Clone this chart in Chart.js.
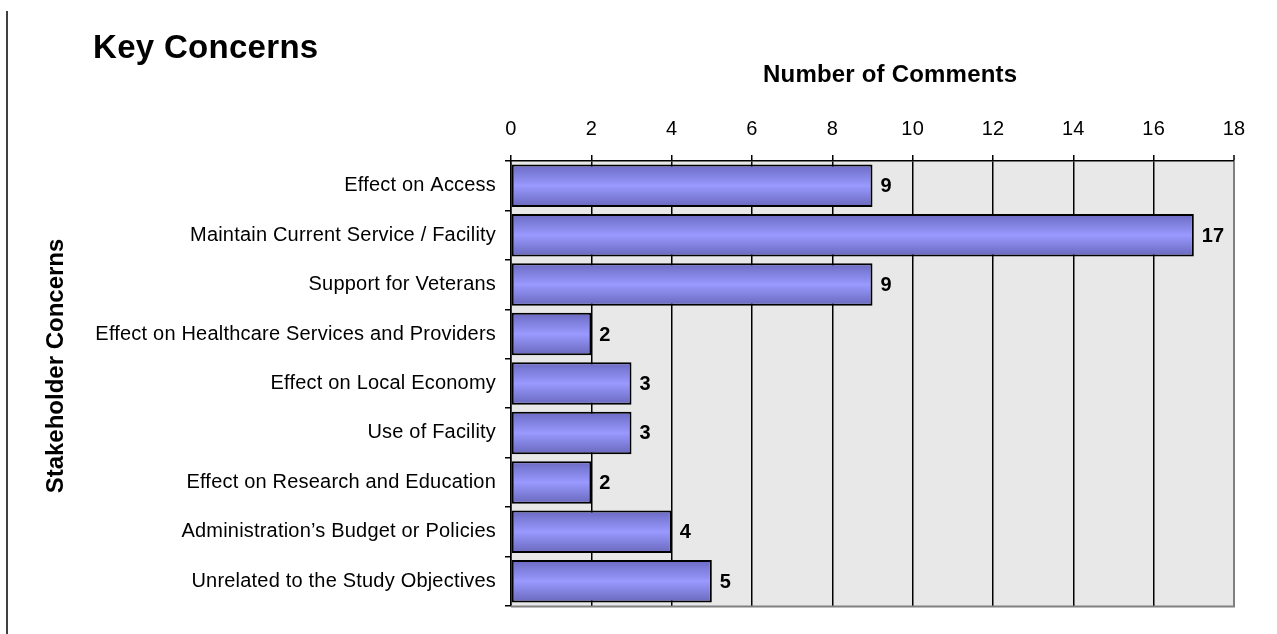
<!DOCTYPE html>
<html>
<head>
<meta charset="utf-8">
<title>Key Concerns</title>
<script src="https://cdn.jsdelivr.net/npm/chart.js@4"></script>
<style>
  body { margin: 0; background: #fff; }
  #wrap { width: 1277px; height: 634px; }
</style>
</head>
<body>
<div id="wrap"><canvas id="barChart" width="1277" height="634"></canvas></div>
<script>
// data
var categories = [
    'Effect on Access',
    'Maintain Current Service / Facility',
    'Support for Veterans',
    'Effect on Healthcare Services and Providers',
    'Effect on Local Economy',
    'Use of Facility',
    'Effect on Research and Education',
    'Administration\u2019s Budget or Policies',
    'Unrelated to the Study Objectives'
];
var comments = [9, 17, 9, 2, 3, 3, 2, 4, 5];
var axisMin = 0;
var axisMax = 18;
var axisStep = 2;

var chartTitle = 'Key Concerns';
var xTitle = 'Number of Comments';
var yTitle = 'Stakeholder Concerns';

var FONT = "'Liberation Sans', Arial, sans-serif";
Chart.defaults.font.family = FONT;
Chart.defaults.color = '#000';

var BAR_PCT = 0.86;

// vertical shading on every bar, darker at the edges like the original
function barFill(context) {
    var chart = context.chart;
    var yScale = chart.scales.y;
    if (!chart.chartArea || !yScale) {
        return '#9999FF';
    }
    var cy = yScale.getPixelForValue(context.dataIndex);
    var h = (yScale.bottom - yScale.top) / categories.length * BAR_PCT;
    var g = chart.ctx.createLinearGradient(0, cy - h / 2, 0, cy + h / 2);
    g.addColorStop(0, '#6A6AC2');
    g.addColorStop(0.5, '#9999FF');
    g.addColorStop(1, '#6868BC');
    return g;
}

var decorations = {
    id: 'decorations',
    beforeDraw: function(chart) {
        var ctx = chart.ctx;
        var a = chart.chartArea;
        ctx.letterSpacing = '0.2px';
        ctx.save();
        ctx.fillStyle = '#E8E8E8';
        ctx.fillRect(a.left, a.top, a.right - a.left, a.bottom - a.top);
        // page rule on the left
        ctx.strokeStyle = '#000';
        ctx.lineWidth = 1.5;
        ctx.beginPath();
        ctx.moveTo(7, 11);
        ctx.lineTo(7, 634);
        ctx.stroke();
        ctx.restore();
    },
    afterDatasetsDraw: function(chart) {
        var ctx = chart.ctx;
        var a = chart.chartArea;
        ctx.save();
        // grey frame bottom
        ctx.strokeStyle = '#808080';
        ctx.lineWidth = 2;
        ctx.beginPath();
        ctx.moveTo(a.left, a.bottom + 0.5);
        ctx.lineTo(a.right + 1, a.bottom + 0.5);
        ctx.stroke();

        // value labels at the end of each bar
        ctx.fillStyle = '#000';
        ctx.font = 'bold 20px ' + FONT;
        ctx.letterSpacing = '0px';
        ctx.textAlign = 'left';
        ctx.textBaseline = 'middle';
        var meta = chart.getDatasetMeta(0);
        meta.data.forEach(function(bar, i) {
            ctx.fillText(String(comments[i]), bar.x + 8, bar.y + 1);
        });

        // titles
        ctx.textBaseline = 'alphabetic';
        ctx.font = 'bold 33px ' + FONT;
        ctx.letterSpacing = '0.3px';
        ctx.fillText(chartTitle, 93, 58);

        ctx.font = 'bold 24px ' + FONT;
        ctx.letterSpacing = '0.2px';
        ctx.fillText(xTitle, 763, 82);

        ctx.letterSpacing = '0px';
        ctx.translate(63, 366);
        ctx.rotate(-Math.PI / 2);
        ctx.textAlign = 'center';
        ctx.fillText(yTitle, 0, 0);
        ctx.restore();
    }
};

var ctxBar = document.getElementById('barChart').getContext('2d');
var barChart = new Chart(ctxBar, {
    type: 'bar',
    data: {
        labels: categories,
        datasets: [{
            data: comments,
            backgroundColor: barFill,
            borderColor: '#000',
            borderWidth: 2,
            borderSkipped: false,
            barPercentage: BAR_PCT,
            categoryPercentage: 1
        }]
    },
    options: {
        indexAxis: 'y',
        responsive: false,
        animation: false,
        layout: {
            padding: { top: 20, left: 20, right: 43, bottom: 28 }
        },
        plugins: {
            legend: { display: false },
            tooltip: { enabled: false }
        },
        scales: {
            x: {
                position: 'top',
                min: axisMin,
                max: axisMax,
                afterFit: function(scale) { scale.height = 161 - 20; },
                ticks: {
                    stepSize: axisStep,
                    padding: 14,
                    font: { size: 20 },
                    color: '#000'
                },
                grid: {
                    color: function(c) { return c.tick && c.tick.value === axisMax ? '#808080' : '#000'; },
                    lineWidth: function(c) { return c.tick && c.tick.value === axisMax ? 2 : 1.5; },
                    tickColor: '#000',
                    tickLength: 6,
                    tickWidth: 1.5
                },
                border: { display: true, color: '#000', width: 1.5 }
            },
            y: {
                afterFit: function(scale) { scale.width = 511 - 20; },
                ticks: {
                    padding: 9,
                    font: { size: 20 },
                    color: '#000'
                },
                grid: {
                    drawOnChartArea: false,
                    drawTicks: true,
                    tickLength: 6,
                    color: '#000',
                    lineWidth: 1.5
                },
                border: { display: true, color: '#000', width: 1.5 }
            }
        }
    },
    plugins: [decorations]
});
</script>
</body>
</html>
